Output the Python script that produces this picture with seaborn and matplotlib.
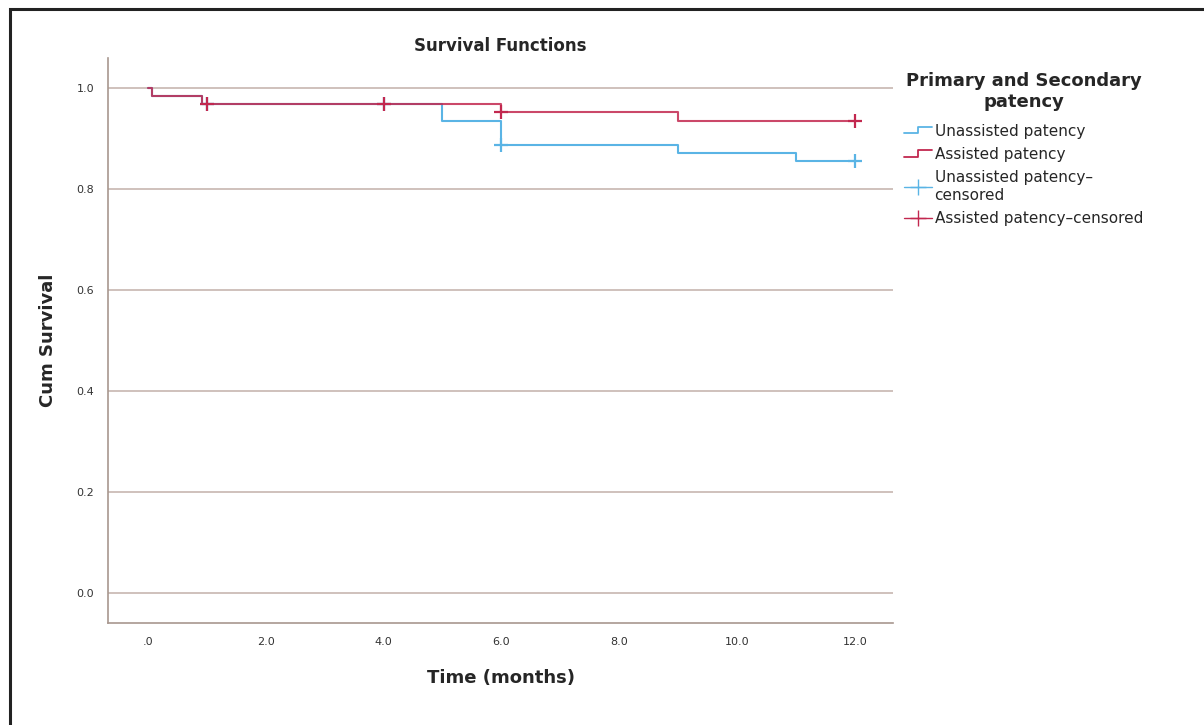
import numpy as np
import pandas as pd
import matplotlib
matplotlib.use("Agg")
import matplotlib.pyplot as plt
import seaborn as sns
from matplotlib.lines import Line2D
from matplotlib.legend_handler import HandlerLine2D
from matplotlib.patches import Rectangle

# ==========================================
# DATA
# ==========================================

unassisted_time = [0.0, 0.06, 0.91, 5.0, 6.0, 9.0, 11.0, 12.0]
unassisted_surv = [1.0, 0.984, 0.968, 0.935, 0.887, 0.871, 0.855, 0.855]

assisted_time = [0.0, 0.06, 0.91, 6.0, 9.0, 12.0]
assisted_surv = [1.0, 0.984, 0.968, 0.952, 0.935, 0.935]

unassisted_cens_time = [1.0, 4.0, 6.0, 12.0]
unassisted_cens_surv = [0.968, 0.968, 0.887, 0.855]

assisted_cens_time = [1.0, 4.0, 6.0, 12.0]
assisted_cens_surv = [0.968, 0.968, 0.952, 0.935]

x_ticks = [0, 2, 4, 6, 8, 10, 12]
x_tick_labels = [".0", "2.0", "4.0", "6.0", "8.0", "10.0", "12.0"]
y_ticks = [0.0, 0.2, 0.4, 0.6, 0.8, 1.0]
y_tick_labels = ["0.0", "0.2", "0.4", "0.6", "0.8", "1.0"]

legend_labels = [
    "Unassisted patency",
    "Assisted patency",
    "Unassisted patency–\ncensored",
    "Assisted patency–censored",
]

BLUE = "#5ab4e5"
RED = "#c2284f"
GRID = "#cbbcb6"
SPINE = "#a8978f"

# ==========================================
# PLOT
# ==========================================

sns.set_style("white")
plt.rcParams["font.family"] = ["DejaVu Sans"]

fig = plt.figure(figsize=(12.04, 7.25), dpi=100)
ax = fig.add_axes([0.0897, 0.1407, 0.652, 0.7793])

sns.lineplot(x=unassisted_time, y=unassisted_surv, ax=ax, color=BLUE,
             drawstyle="steps-post", linewidth=1.5)
sns.lineplot(x=assisted_time, y=assisted_surv, ax=ax, color=RED,
             drawstyle="steps-post", linewidth=1.5, alpha=0.85)

sns.scatterplot(x=unassisted_cens_time, y=unassisted_cens_surv, ax=ax,
                marker="+", s=110, linewidth=1.6, color=BLUE, zorder=4)
sns.scatterplot(x=assisted_cens_time, y=assisted_cens_surv, ax=ax,
                marker="+", s=110, linewidth=1.6, color=RED, zorder=4)

for yv in y_ticks:
    ax.axhline(yv, color=GRID, linewidth=1.3, zorder=0)

ax.set_xlim(-0.68, 12.65)
ax.set_ylim(-0.06, 1.06)
ax.set_xticks(x_ticks)
ax.set_xticklabels(x_tick_labels, fontsize=8, color="#333333")
ax.set_yticks(y_ticks)
ax.set_yticklabels(y_tick_labels, fontsize=8, color="#333333")
ax.tick_params(length=0, pad=10)

for side in ["top", "right"]:
    ax.spines[side].set_visible(False)
for side in ["left", "bottom"]:
    ax.spines[side].set_color(SPINE)
    ax.spines[side].set_linewidth(1.2)

ax.set_xlabel("Time (months)", fontsize=13, fontweight="bold", labelpad=16)
ax.set_ylabel("Cum Survival", fontsize=13, fontweight="bold", labelpad=14)
ax.set_title("Survival Functions", fontsize=12, fontweight="bold", pad=5)


class StepHandler(HandlerLine2D):
    def create_artists(self, legend, orig_handle, xdescent, ydescent,
                       width, height, fontsize, trans):
        x0 = -xdescent
        xm = x0 + width * 0.5
        x1 = x0 + width
        ylo = -ydescent + height * 0.2
        yhi = -ydescent + height * 0.8
        line = Line2D([x0, xm, xm, x1], [ylo, ylo, yhi, yhi],
                      color=orig_handle.get_color(), linewidth=1.3)
        line.set_transform(trans)
        return [line]


h1 = Line2D([], [], color=BLUE)
h2 = Line2D([], [], color=RED)
h3 = Line2D([], [], color=BLUE, marker="+", markersize=12, linewidth=1.0)
h4 = Line2D([], [], color=RED, marker="+", markersize=12, linewidth=1.0)

leg = fig.legend(
    [h1, h2, h3, h4], legend_labels,
    handler_map={h1: StepHandler(), h2: StepHandler()},
    loc="upper left", bbox_to_anchor=(0.742, 0.915),
    title="Primary and Secondary\npatency",
    title_fontproperties={"size": 13, "weight": "bold"},
    fontsize=11, frameon=False, handlelength=1.8, handletextpad=0.2,
    labelspacing=0.55, borderpad=0.2,
)
leg._legend_box.align = "center"
leg._legend_box.sep = 9
leg.get_title().set_multialignment("center")

fig.patches.append(Rectangle((0.008, -0.05), 1.1, 1.038,
                             transform=fig.transFigure, fill=False,
                             edgecolor="#222222", linewidth=2.2))

fig.savefig("out.png", dpi=100)
